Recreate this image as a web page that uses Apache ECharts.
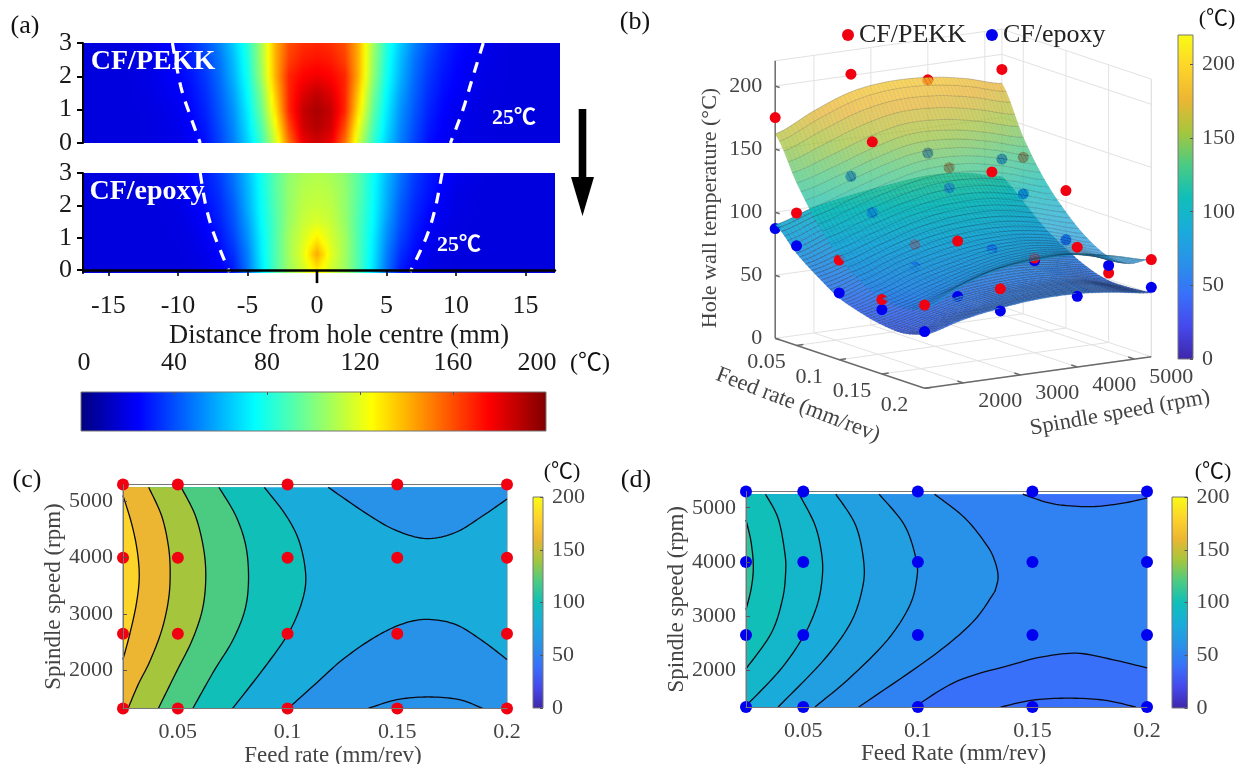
<!DOCTYPE html>
<html><head><meta charset="utf-8">
<style>html,body{margin:0;background:#fff}#c{width:1242px;height:764px}</style>
<script src="https://cdn.jsdelivr.net/npm/echarts@6/dist/echarts.min.js"></script>
</head><body><div id="c"></div>
<script>
// ---------- panel (a): temperature read along distance |x| (mm) at depth rows ----------
const distanceNodes=[0,1,2,3,4,5,6,7,8,9,10,12,14,17.5];
const depthNodes=[0,0.5,1,1.5,2,2.5,3];
const tempPEKK=[
[184,178,153,115,86,66,50,38,28,23,20.5,19,18.5,18.5],
[190,184,161,122,91,69,52,40,30,24.5,21,19,18.5,18.5],
[192,186,168,130,96,72,54,42,32,26,22,19,18.5,18.5],
[187,181,168,135,100,75,57,44,34,27.5,23.5,19.5,18.5,18.5],
[178,175,168,140,105,78,60,46,36,29,25,20,18.5,18.5],
[172,170,163,140,107,80,62,48,38,31,26,20.5,18.5,18.5],
[168,166,160,140,108,82,65,51,41,33,27.5,21,18.5,18.5]];
const tempEpoxy=[
[128,116,106,90,70,48,30,23,20,19,18.5,18.5,18.5,18.5],
[142,120,107,90,72,50,34,26,21,19.5,18.5,18.5,18.5,18.5],
[128,117,107,90,73,53,38,28.5,23,20,19,18.5,18.5,18.5],
[118,114,105,90,75,56,41,31,25,21,19,18.5,18.5,18.5],
[114,112,104,91,76,59,43,33,27,23,19.5,18.5,18.5,18.5],
[112,110,104,92,77,60,46,35,29,24.5,20.5,18.5,18.5,18.5],
[110,108,103,92,78,62,48,37,30,25.5,22,19,18.5,18.5]];
const iso25TopLeft=[[-10.4,3],[-9.8,1.7],[-9.1,0.8],[-8.4,0]];
const iso25TopRight=[[11.96,3],[11.15,1.9],[10.5,1],[9.6,0]];
const iso25BotLeft=[[-8.4,3],[-8,2],[-7.4,1.1],[-6.3,-0.06]];
const iso25BotRight=[[9,3],[8.5,1.9],[7.85,1],[6.7,-0.06]];
const distanceTicks=[-15,-10,-5,0,5,10,15];
const depthTicks=[0,1,2,3];
const jetTicks=[0,40,80,120,160,200];

// ---------- panel (c): contour lines [feed, speed] ----------
const feedLevels=[0.025,0.05,0.1,0.15,0.2];
const speedLevels=[1320,2650,4000,5300];
const feedTicks=[0.05,0.1,0.15,0.2];
const speedTicks=[2000,3000,4000,5000];
const barTicks=[0,50,100,150,200];
const c180=[[.025,5104],[.0288,4624],[.0314,4144],[.0324,3664],[.0311,3184],[.0281,2644],[.025,2194]];
const c160=[[.0367,5250],[.0426,4744],[.0457,4204],[.0465,3724],[.0457,3244],[.0426,2704],[.0373,2164],[.0319,1744],[.0273,1320]];
const c140=[[.0515,5250],[.058,4744],[.0618,4144],[.0627,3604],[.0611,3064],[.0564,2524],[.0495,1984],[.0411,1320]];
const c120=[[.0687,5250],[.0764,4744],[.081,4204],[.0822,3604],[.0805,3064],[.0749,2524],[.0664,1984],[.0568,1320]];
const c100=[[.0894,5250],[.0994,4744],[.1055,4264],[.1083,3664],[.1063,3184],[.1002,2644],[.0894,2044],[.0749,1320]];
const c80Top=[[.1185,5250],[.1375,4744],[.1499,4477],[.1632,4340],[.1765,4447],[.189,4744],[.2,5041]];
const c80Bot=[[.1002,1320],[.1132,1774],[.1251,2190],[.1393,2576],[.1517,2814],[.1632,2903],[.1765,2814],[.189,2517],[.2,2190]];
const c60=[[.1366,1320],[.1499,1477],[.1641,1525],[.1783,1477],[.189,1320]];

// ---------- panel (d): contour lines [feed, speed] ----------
const d110=[[.025,4775],[.0272,4369],[.0282,3900],[.0272,3494],[.025,3119]];
const d100=[[.0335,5250],[.039,4806],[.0419,4181],[.0423,3806],[.0409,3306],[.036,2681],[.025,2025]];
const d90=[[.0482,5250],[.0551,4681],[.0581,4119],[.0582,3681],[.0559,3181],[.05,2619],[.0397,1994],[.025,1340]];
const d80=[[.0642,5250],[.0728,4681],[.0764,3994],[.0757,3494],[.0706,2869],[.0588,2181],[.039,1320]];
const d70=[[.0831,5250],[.0941,4681],[.0992,4056],[.0995,3681],[.0963,3181],[.0867,2556],[.0706,1869],[.0551,1320]];
const d60=[[.1073,5250],[.1206,4806],[.1301,4306],[.1335,4025],[.135,3744],[.1341,3525],[.1323,3369],[.1235,2869],[.1059,2244],[.0742,1320]];
const d50Top=[[.1458,5250],[.1588,5075],[.1744,5020],[.1882,5075],[.2,5180]];
const d50Bot=[[.0985,1320],[.1176,1806],[.1426,2119],[.1536,2240],[.1692,2314],[.1848,2197],[.2,2043]];
const d40=[[.1362,1320],[.1501,1446],[.1657,1483],[.1813,1446],[.1951,1320]];

// ---------- panel (b): response surfaces (rows feed, columns speed) and measured points ----------
const surfFeed=[.025,.05,.075,.1,.125,.15,.175,.2];
const surfSpeed=[1320,2000,2650,3300,4000,4650,5300];
const surfPEKK=[
[162,176,187,191,190,185,177],
[129,138,148,155,154,148,140],
[102,112,121,127,127,121,112],
[82,92,101,106,106,100,92],
[68,79,87,91,91,86,77],
[60,70,78,84,85,79,68],
[58,67,77,83,84,78,68],
[62,77,86,89,89,84,77]];
const surfEpoxy=[
[90,99.5,105,109,112,110,103],
[73,83.5,88,94,95,93,89],
[60,68,74,79.5,80.5,78,74],
[49,59.5,66,69,70,67.5,63],
[43,51,58,62,63,60,54],
[39,46,53,56,57,55,49],
[38,46,52,56,57,55,49],
[42,50,55,58,58,55,50.5]];
const dotsPEKK=[[175,201,188,188],[105,153,124,124],[79,83,132,109],[59,97,75,55],[66,70.5,95,77]];
const dotsEpoxy=[[87,120,130,117],[79,97,108,95],[53,65,70.5,70],[51,53,73,61],[45,53,56,55]];
const zTicks=[0,50,100,150,200];
const feed3dTicks=[0.05,0.1,0.15,0.2];
const speed3dTicks=[2000,3000,4000,5000];

// ---------- colour maps ----------
const parulaStops=[[62,38,168],[70,72,236],[56,112,250],[40,146,232],[25,172,218],[15,191,184],[75,203,130],[165,198,60],[236,182,50],[253,212,42],[249,251,21]];
function hex(c,a){return a===undefined?`rgb(${c.map(Math.round)})`:`rgba(${c.map(Math.round)},${a})`;}
function parula(t){t=Math.max(0,Math.min(1,t))*10;const i=Math.min(9,Math.floor(t)),f=t-i;return parulaStops[i].map((v,k)=>v+(parulaStops[i+1][k]-v)*f);}
function jet(t){t=Math.max(0,Math.min(1,t));const ch=d=>255*Math.max(0,Math.min(1,1.5-Math.abs(4*t-d)));return [ch(3),ch(2),ch(1)];}
const serif="'Liberation Serif','Noto Sans CJK SC',serif";
const LG=echarts.graphic.LinearGradient;

// ---------- curve smoothing used when drawing ----------
function smoothPx(p){const o=[];for(let i=0;i<p.length-1;i++){const a=p[Math.max(0,i-1)],b=p[i],c=p[i+1],d=p[Math.min(p.length-1,i+2)];
 for(let s=0;s<10;s++){const t=s/10,t2=t*t,t3=t2*t;o.push([0,1].map(k=>.5*(2*b[k]+(c[k]-a[k])*t+(2*a[k]-5*b[k]+4*c[k]-d[k])*t2+(3*b[k]-a[k]-3*c[k]+d[k])*t3)));}}
 o.push(p[p.length-1]);return o;}

// ---------- panel (a) series ----------
const signedNodes=[...distanceNodes.slice(1).reverse().map(v=>-v),...distanceNodes];
function heat(name,xi,yi,table,zBottom){return {type:'custom',name,xAxisIndex:xi,yAxisIndex:yi,clip:true,silent:true,progressive:0,z:2,
 data:depthNodes.slice(0,-1).map(z=>[0,z]),
 renderItem(params,api){const j=params.dataIndex,z0=depthNodes[j],z1=depthNodes[j+1],K=8,children=[];
  for(let k=0;k<K;k++){const mid=(k+.5)/K,lo=(j===0&&k===0)?zBottom:z0+(z1-z0)*k/K,hi=z0+(z1-z0)*(k+1)/K;
   const row=table[j].map((v,n)=>v*(1-mid)+table[j+1][n]*mid);
   const full=[...row.slice(1).reverse(),...row],stops=[];
   for(let n=0;n<full.length-1;n++){for(let s=0;s<4;s++){const x=signedNodes[n]+(signedNodes[n+1]-signedNodes[n])*s/4,T=full[n]+(full[n+1]-full[n])*s/4;
     stops.push({offset:(x+17.5)/35,color:hex(jet(T/200))});}}
   stops.push({offset:1,color:hex(jet(full[full.length-1]/200))});
   const a=api.coord([-17.5,lo]),b=api.coord([17.5,hi]);
   children.push({type:'rect',shape:{x:a[0],y:b[1]-.4,width:b[0]-a[0],height:a[1]-b[1]+.8},style:{fill:new LG(0,0,1,0,stops)}});}
  return {type:'group',children};}};}
function dashes(name,xi,yi,lines){return {type:'custom',name,xAxisIndex:xi,yAxisIndex:yi,clip:true,silent:true,z:3,
 data:lines.map(l=>l[0]),renderItem(params,api){const pts=smoothPx(lines[params.dataIndex].map(p=>api.coord(p)));
  return {type:'polyline',shape:{points:pts},style:{stroke:'#fff',fill:null,lineWidth:3.2,lineDash:[11,9]}};}};}
function colourBar(name,xi,yi,horizontal,top,cmap){return {type:'custom',name,xAxisIndex:xi,yAxisIndex:yi,silent:true,z:2,data:[[0,0]],
 renderItem(params,api){const a=api.coord([0,0]),b=api.coord(horizontal?[top,1]:[1,top]),stops=[];
  for(let i=0;i<=40;i++)stops.push({offset:i/40,color:hex(cmap(i/40))});
  return {type:'rect',shape:{x:Math.min(a[0],b[0]),y:Math.min(a[1],b[1]),width:Math.abs(b[0]-a[0]),height:Math.abs(b[1]-a[1])},
   style:{fill:horizontal?new LG(0,0,1,0,stops):new LG(0,1,0,0,stops),stroke:'#777',lineWidth:1}};}};}

// ---------- contour panels ----------
function contours(name,xi,yi,bands){return {type:'custom',name,xAxisIndex:xi,yAxisIndex:yi,silent:true,progressive:0,z:2,clip:false,
 data:bands.map(()=>[0.1,3000]),renderItem(params,api){const b=bands[params.dataIndex],c=p=>api.coord(p);
  const line=b.line?smoothPx(b.line.map(c)):[];const poly=[...line,...(b.close||[]).map(c)];const kids=[{type:'polygon',shape:{points:poly},style:{fill:hex(parula(b.level/200))}}];
  if(b.line)kids.push({type:'polyline',shape:{points:line},style:{stroke:'#0a0a14',fill:null,lineWidth:1.3}});
  return {type:'group',children:kids};}};}
const T=5250,B=1320,L=.025,R=.2;
const bandsC=[
 {close:[[L,B],[R,B],[R,T],[L,T]],level:80},
 {line:c100,close:[[L,B],[L,T]],level:100},{line:c120,close:[[L,B],[L,T]],level:120},{line:c140,close:[[L,B],[L,T]],level:140},
 {line:c160,close:[[L,B],[L,T]],level:160},{line:c180,level:180},
 {line:c80Top,close:[[R,T]],level:60},{line:c80Bot,close:[[R,B]],level:60},{line:c60,level:60}];
const bandsD=[
 {close:[[L,B],[R,B],[R,T],[L,T]],level:50},
 {line:d60,close:[[L,B],[L,T]],level:60},{line:d70,close:[[L,B],[L,T]],level:70},{line:d80,close:[[L,B],[L,T]],level:80},
 {line:d90,close:[[L,T]],level:90},{line:d100,close:[[L,T]],level:100},{line:d110,level:110},
 {line:d50Top,close:[[R,T]],level:40},{line:d50Bot,close:[[R,B]],level:40},{line:d40,level:40}];
const gridPoints=[];feedLevels.forEach(f=>speedLevels.forEach(s=>gridPoints.push([f,s])));

// ---------- panel (b) view: plane coordinates of the fixed oblique view ----------
const view={ox:408,oy:1015,fx:369,fy:150,sx:560,sy:-95,zs:3.785};
const uOf=f=>(f-.025)/.175, vOf=s=>(s-1320)/3980;
const proj=(u,v,z)=>[view.ox+view.fx*u+view.sx*v,view.oy+view.fy*u+view.sy*v-view.zs*z];
const depth=(u,v,z)=>u-.8*v+.008*z;
function cr(a,b,c,d,t){return .5*(2*b+(c-a)*t+(2*a-5*b+4*c-d)*t*t+(3*b-a-3*c+d)*t*t*t);}
function surfAt(tb,fi,si){const I=Math.min(tb.length-2,Math.floor(fi)),J=Math.min(tb[0].length-2,Math.floor(si)),tf=fi-I,ts=si-J;
 const g=(i,j)=>tb[Math.max(0,Math.min(tb.length-1,i))][Math.max(0,Math.min(tb[0].length-1,j))];
 const col=[-1,0,1,2].map(d=>cr(g(I+d,J-1),g(I+d,J),g(I+d,J+1),g(I+d,J+2),ts));return cr(col[0],col[1],col[2],col[3],tf);}
function nodeAt(arr,x){const i=Math.min(arr.length-2,Math.floor(x));return arr[i]+(arr[i+1]-arr[i])*(x-i);}
const scene=[];
function addSurface(tb,nf,ns,alpha,edge,feedEdge){for(let i=0;i<(surfFeed.length-1)*nf;i++)for(let j=0;j<(surfSpeed.length-1)*ns;j++){
 const cs=[[i,j],[i+1,j],[i+1,j+1],[i,j+1]].map(([a,b])=>{const fi=a/nf,si=b/ns,u=uOf(nodeAt(surfFeed,fi)),v=vOf(nodeAt(surfSpeed,si)),z=surfAt(tb,fi,si);return {u,v,z};});
 const m=k=>cs.reduce((s,p)=>s+p[k],0)/4;
 scene.push({pts:cs.map(p=>proj(p.u,p.v,p.z)),fill:hex(parula(m('z')/220),alpha),stroke:edge,feedEdge,d:depth(m('u'),m('v'),m('z'))});}}
addSurface(surfPEKK,5,10,.76,'rgba(25,25,35,.13)','rgba(25,25,35,.3)');
addSurface(surfEpoxy,7,10,.94,'rgba(10,10,30,.3)','rgba(10,10,30,.36)');
function addDots(tb,color){feedLevels.forEach((f,i)=>speedLevels.forEach((s,j)=>{const u=uOf(f),v=vOf(s),z=tb[i][j];scene.push({dot:proj(u,v,z),fill:color,d:depth(u,v,z)+.001});}));}
addDots(dotsPEKK,'#f00010');addDots(dotsEpoxy,'#0000f0');
scene.sort((a,b)=>a.d-b.d);
const walls=[];const seg=(a,b,c)=>walls.push({a:proj(...a),b:proj(...b),c});
const wallCol='#e2e2e2',axCol='#6a6a6a';
zTicks.forEach(z=>{seg([0,0,z],[0,1,z],wallCol);seg([0,1,z],[1,1,z],wallCol);});
speed3dTicks.forEach(s=>{const v=vOf(s);seg([0,v,0],[0,v,220],wallCol);seg([0,v,0],[1,v,0],wallCol);});
feed3dTicks.forEach(f=>{const u=uOf(f);seg([u,1,0],[u,1,220],wallCol);seg([u,0,0],[u,1,0],wallCol);});
seg([0,1,0],[0,1,220],wallCol);seg([1,1,0],[1,1,220],wallCol);seg([0,1,220],[1,1,220],wallCol);seg([0,0,220],[0,1,220],wallCol);
seg([0,0,0],[0,0,220],axCol);seg([0,0,0],[1,0,0],axCol);seg([1,0,0],[1,1,0],axCol);
speed3dTicks.forEach(s=>{const v=vOf(s);seg([1,v,0],[.96,v,0],axCol);});
feed3dTicks.forEach(f=>{const u=uOf(f);seg([u,0,0],[u,.03,0],axCol);});
zTicks.forEach(z=>seg([0,0,z],[.03,0,z],axCol));
const labels3d=[];
zTicks.forEach(z=>labels3d.push({at:proj(0,0,z),text:String(z),dx:-13,dy:0,align:'right'}));
feed3dTicks.forEach(f=>labels3d.push({at:proj(uOf(f),0,0),text:String(f),dx:-30,dy:17,align:'center'}));
speed3dTicks.forEach(s=>labels3d.push({at:proj(1,vOf(s),0),text:String(s),dx:37,dy:18,align:'center'}));

// ---------- option ----------
const tick={fontFamily:serif,color:'#1a1a1a'};
const softTick={fontFamily:serif,color:'#444',fontSize:22};
const plain=v=>String(v);
const hideAxis=(gi,min,max)=>({gridIndex:gi,type:'value',min,max,show:false});
function vBar(gi,max){return {gridIndex:gi,type:'value',min:0,max,position:'right',z:5,splitLine:{show:false},axisLine:{show:false,onZero:false},
 axisTick:{show:true,inside:true,length:3,lineStyle:{color:'#555'},customValues:barTicks},axisLabel:{...softTick,margin:9,customValues:barTicks,formatter:plain}};}
function contourX(gi,name,pad,gap){return {gridIndex:gi,type:'value',min:.025,max:.2,z:5,splitLine:{show:false},name,nameLocation:'middle',nameGap:gap,
 nameTextStyle:{...softTick,fontSize:23,padding:[0,0,0,pad]},axisLine:{onZero:false,lineStyle:{color:'#777'}},axisTick:{show:false},axisLabel:{...softTick,margin:13,customValues:feedTicks,formatter:plain}};}
function contourY(gi){return {gridIndex:gi,type:'value',min:1320,max:5300,z:5,splitLine:{show:false},name:'Spindle speed (rpm)',nameLocation:'middle',nameGap:56,
 nameTextStyle:{...softTick,fontSize:23},axisLine:{onZero:false,lineStyle:{color:'#777'}},axisTick:{show:true,inside:true,length:4,lineStyle:{color:'#555'},customValues:speedTicks},axisLabel:{...softTick,margin:10,customValues:speedTicks,formatter:plain}};}
function txt(text,x,y,size,extra={},rot=0){return {type:'text',x,y,rotation:rot,z:100,silent:true,style:{text,fontSize:size,fontFamily:serif,fill:'#111',textAlign:'center',textVerticalAlign:'middle',verticalAlign:'middle',textBaseline:'middle',...extra}};}
const jetLabelFont={fontFamily:serif,fontSize:26,color:'#1a1a1a'};
const free={outerBoundsMode:'none'};
const option={animation:false,backgroundColor:'#fff',
 legend:{left:837,top:17,selectedMode:false,itemWidth:12,itemHeight:12,itemGap:20,icon:'circle',data:['CF/PEKK','CF/epoxy'],textStyle:{fontFamily:serif,fontSize:26,color:'#222'}},
 grid:[
  {...free,left:83,top:43,width:477,height:100},
  {...free,left:83,top:173,width:472,height:100},
  {...free,left:81,top:392,width:465,height:39},
  {...free,left:610,top:0,width:632,height:450},
  {...free,left:123,top:484.5,width:384,height:224,show:true,borderColor:'#777',backgroundColor:'transparent'},
  {...free,left:533,top:497,width:10,height:211},
  {...free,left:746,top:491.5,width:401,height:215.5,show:true,borderColor:'#777',backgroundColor:'transparent'},
  {...free,left:1172,top:497,width:15.5,height:211},
  {...free,left:1178,top:35,width:15,height:324}],
 xAxis:[
  hideAxis(0,-16.83,17.48),
  {gridIndex:1,type:'value',min:-16.83,max:17.12,z:6,splitLine:{show:false},name:'Distance from hole centre (mm)',nameLocation:'middle',nameGap:50,
   nameTextStyle:{...tick,fontSize:26.5,padding:[0,0,0,40]},axisLine:{onZero:true,lineStyle:{color:'#000',width:2.5}},
   axisTick:{show:true,length:6,lineStyle:{color:'#000',width:1.6},customValues:distanceTicks},axisLabel:{...tick,fontSize:26,margin:20,customValues:distanceTicks}},
  {gridIndex:2,type:'value',min:0,max:200,position:'top',z:5,splitLine:{show:false},axisLine:{show:false,onZero:false},axisTick:{show:true,inside:true,length:3,lineStyle:{color:'#555'},customValues:[40,80,120,160]},
   axisLabel:{...jetLabelFont,margin:16,customValues:jetTicks,formatter:v=>v===200?'{r|200}':v===0?'{l|0}':String(v),
    rich:{r:{...jetLabelFont,padding:[0,18,0,0]},l:{...jetLabelFont,padding:[0,0,0,6]}}}},
  hideAxis(3,0,1561),
  contourX(4,'Feed rate (mm/rev)',36,29),
  hideAxis(5,0,1),
  contourX(6,'Feed Rate (mm/rev)',14,34),
  hideAxis(7,0,1),
  hideAxis(8,0,1)],
 yAxis:[
  {gridIndex:0,type:'value',min:0,max:3,z:6,splitLine:{show:false},axisLine:{show:true,onZero:false,lineStyle:{color:'#000',width:2}},axisTick:{show:true,length:6,lineStyle:{color:'#000',width:2},customValues:depthTicks},axisLabel:{...tick,fontSize:26,margin:11,customValues:depthTicks}},
  {gridIndex:1,type:'value',min:-0.09,max:3,z:6,splitLine:{show:false},axisLine:{show:true,onZero:false,lineStyle:{color:'#000',width:2}},axisTick:{show:true,length:6,lineStyle:{color:'#000',width:2},customValues:depthTicks},axisLabel:{...tick,fontSize:26,margin:11,customValues:depthTicks}},
  hideAxis(2,0,1),
  {gridIndex:3,type:'value',min:0,max:1350,inverse:true,show:false},
  contourY(4),
  vBar(5,200),
  contourY(6),
  vBar(7,200),
  vBar(8,220)],
 series:[
  heat('CF/PEKK temperature',0,0,tempPEKK,0),
  dashes('25 top',0,0,[iso25TopLeft,iso25TopRight]),
  heat('CF/epoxy temperature',1,1,tempEpoxy,-0.09),
  dashes('25 bottom',1,1,[iso25BotLeft,iso25BotRight]),
  {type:'custom',name:'centre tick',xAxisIndex:1,yAxisIndex:1,silent:true,z:7,clip:false,data:[[0,0]],
   renderItem(p,api){const c=api.coord([0,0]);return {type:'line',shape:{x1:c[0],y1:c[1],x2:c[0],y2:c[1]+13},style:{stroke:'#000',lineWidth:2.6}};}},
  colourBar('jet bar',2,2,true,200,jet),
  {type:'custom',name:'walls',xAxisIndex:3,yAxisIndex:3,silent:true,z:1,clip:false,progressive:0,data:walls.map(w=>w.a),
   renderItem(p,api){const w=walls[p.dataIndex],a=api.coord(w.a),b=api.coord(w.b);return {type:'line',shape:{x1:a[0],y1:a[1],x2:b[0],y2:b[1]},style:{stroke:w.c,lineWidth:w.c===axCol?1.5:1}};}},
  {type:'custom',name:'3d scene',xAxisIndex:3,yAxisIndex:3,silent:true,z:2,clip:false,progressive:0,data:scene.map(s=>s.dot||s.pts[0]),
   renderItem(p,api){const s=scene[p.dataIndex];if(s.dot){const c=api.coord(s.dot);return {type:'circle',shape:{cx:c[0],cy:c[1],r:5.5},style:{fill:s.fill}};}
    const q=s.pts.map(v=>api.coord(v));
    return {type:'group',children:[{type:'polygon',shape:{points:q},style:{fill:s.fill,stroke:s.stroke,lineWidth:.45}},
     {type:'line',shape:{x1:q[0][0],y1:q[0][1],x2:q[3][0],y2:q[3][1]},style:{stroke:s.feedEdge,lineWidth:.55}}]};}},
  {type:'custom',name:'3d ticks',xAxisIndex:3,yAxisIndex:3,silent:true,z:3,clip:false,data:labels3d.map(l=>l.at),
   renderItem(p,api){const l=labels3d[p.dataIndex],c=api.coord(l.at);return {type:'text',x:c[0]+l.dx,y:c[1]+l.dy,style:{text:l.text,fontSize:22,fontFamily:serif,fill:'#444',textAlign:l.align,textVerticalAlign:'middle',verticalAlign:'middle',textBaseline:'middle'}};}},
  contours('CF/PEKK contour',4,4,bandsC),
  {type:'scatter',name:'CF/PEKK',xAxisIndex:4,yAxisIndex:4,data:gridPoints,symbolSize:12,clip:false,z:4,silent:true,itemStyle:{color:'#f00010',opacity:1}},
  colourBar('bar c',5,5,false,200,parula),
  contours('CF/epoxy contour',6,6,bandsD),
  {type:'scatter',name:'CF/epoxy',xAxisIndex:6,yAxisIndex:6,data:gridPoints,symbolSize:12,clip:false,z:4,silent:true,itemStyle:{color:'#0000f0',opacity:1}},
  colourBar('bar d',7,7,false,200,parula),
  colourBar('bar b',8,8,false,220,parula)],
 graphic:{elements:[
  {type:'rect',z:100,shape:{x:578.7,y:109,width:7.6,height:68},style:{fill:'#000'}},
  {type:'polygon',z:100,shape:{points:[[571,177],[594,177],[582.5,216]]},style:{fill:'#000'}},
  txt('(a)',25,26,26),txt('(b)',635,22,26),txt('(c)',27,480,26),txt('(d)',636,480,26),
  txt('CF/PEKK',153,62,28,{fill:'#fff',fontWeight:'bold'}),txt('CF/epoxy',147,192,28,{fill:'#fff',fontWeight:'bold'}),
  txt('25℃',514,118,22,{fill:'#fff',fontWeight:'bold'}),txt('25℃',459,245,22,{fill:'#fff',fontWeight:'bold'}),
  txt('(℃)',590,364,24),txt('(℃)',1217,19,22),txt('(℃)',562,472,22),txt('(℃)',1213,472,22),
  txt('Hole wall temperature (°C)',710,208,22,{fill:'#444'},Math.PI/2),
  txt('Feed rate (mm/rev)',798,405,22.5,{fill:'#444'},-21*Math.PI/180),
  txt('Spindle speed (rpm)',1120,413,22.5,{fill:'#444'},10*Math.PI/180)]}
};
echarts.init(document.getElementById('c'),null,{renderer:'canvas'}).setOption(option);
</script></body></html>
